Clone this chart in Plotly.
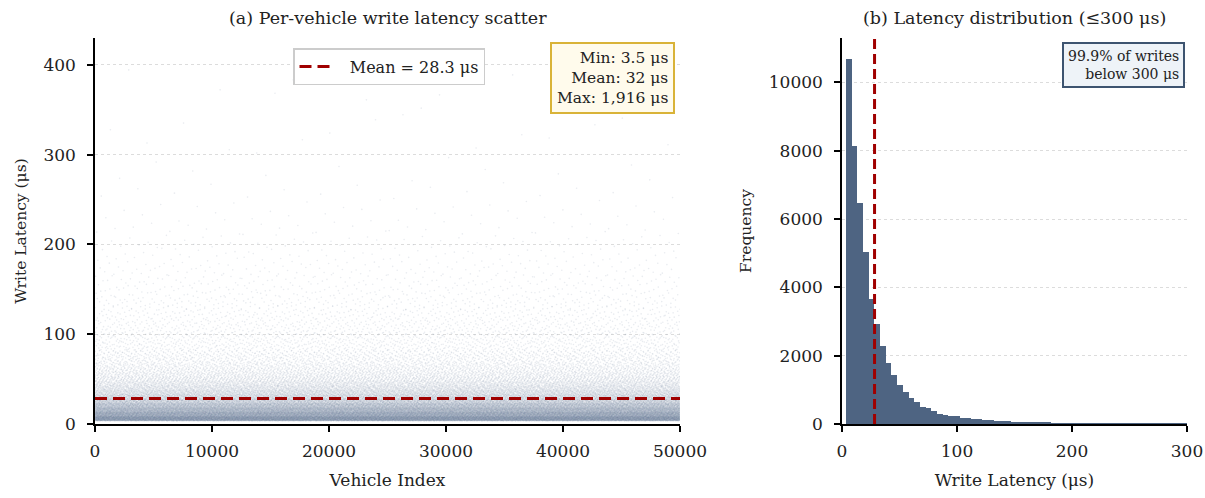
import numpy as np
import plotly.graph_objects as go

# ---------------- data ----------------
n_vehicles = 50000
mean_line = 28.3
stat_min, stat_mean, stat_max = 3.5, 32, 1916

# histogram (b): 60 bins from 3.5 to 300 us
bin_lo, bin_hi, n_bins = 3.5, 300.0, 60
hist_counts = [10700, 8145, 6470, 5030, 3655, 2920, 2275, 1800, 1420, 1130,
               935, 770, 645, 510, 458, 390, 292, 272, 240, 220,
               185, 176, 156, 137, 127, 117, 98, 88, 78, 68,
               59, 55, 50, 44, 38, 33, 29, 25, 22, 19,
               17, 15, 13, 11, 10, 9, 8, 7, 6, 5,
               5, 4, 4, 3, 3, 2, 2, 2, 1, 1]
# tail above 300 us (about 0.1 %)
tail_ranges = [(300, 350), (350, 400), (400, 1916)]
tail_counts = [15, 10, 25]


def halton(i, base):
    f, r = 1.0, np.zeros_like(i, dtype=float)
    i = i.copy()
    while np.any(i > 0):
        f /= base
        r += f * (i % base)
        i //= base
    return r


# ---------------- spread each bin's count of writes over the vehicles ----------------
edges = np.linspace(bin_lo, bin_hi, n_bins + 1)
ranges = [(edges[k], edges[k + 1]) for k in range(n_bins)] + tail_ranges
counts = list(hist_counts) + tail_counts
ys = []
for (lo, hi), c in zip(ranges, counts):
    seg = np.arange(1, c + 1)
    ys.append(lo + halton(seg, 3) * (hi - lo))
ys = np.concatenate(ys)
xs = halton(np.arange(1, len(ys) + 1), 2) * n_vehicles

FONT = "DejaVu Serif"
RED = "#a00000"
SLATE = "#4e6482"
INK = "#222222"

fig = go.Figure()

fig.add_trace(go.Scatter(
    x=xs, y=ys, mode="markers",
    marker=dict(size=1.6, color=SLATE, opacity=0.12, line=dict(width=0)),
    showlegend=False, hoverinfo="skip", xaxis="x", yaxis="y"))

fig.add_trace(go.Scatter(
    x=[0, n_vehicles], y=[mean_line, mean_line], mode="lines",
    line=dict(color=RED, width=3, dash="12px,6px"),
    name=f"\u00a0\u00a0\u00a0Mean = {mean_line} μs", xaxis="x", yaxis="y"))

centers = (edges[:-1] + edges[1:]) / 2
fig.add_trace(go.Bar(
    x=centers, y=hist_counts, width=(edges[1] - edges[0]),
    marker=dict(color=SLATE, line=dict(width=0)),
    showlegend=False, xaxis="x2", yaxis="y2"))

fig.add_trace(go.Scatter(
    x=[mean_line, mean_line], y=[0, 11300], mode="lines",
    line=dict(color=RED, width=3, dash="10px,5px"),
    showlegend=False, xaxis="x2", yaxis="y2"))

W, H = 1205, 498
def px(x):
    return x / W
def py(y):
    return 1 - y / H

TICK = dict(family=FONT, size=17, color=INK)
XTITLE = dict(family=FONT, size=17, color=INK)
YTITLE = dict(family=FONT, size=15.5, color=INK)
axis_common = dict(
    showline=True, linecolor="black", linewidth=1.5, ticks="outside",
    ticklen=6, tickwidth=1.5, tickcolor="black", mirror=False,
    tickfont=TICK, zeroline=False, automargin=False, tickformat="d",
)

fig.update_layout(
    width=W, height=H, margin=dict(l=0, r=0, t=0, b=0),
    paper_bgcolor="white", plot_bgcolor="white",
    font=dict(family=FONT, size=17, color=INK),
    bargap=0,
    xaxis=dict(domain=[px(95), px(680)], range=[0, 50000],
               tickvals=[0, 10000, 20000, 30000, 40000, 50000],
               showgrid=False, ticklabelstandoff=5,
               title=dict(text="Vehicle Index", font=XTITLE, standoff=14),
               **axis_common),
    yaxis=dict(domain=[py(424), py(38)], range=[0, 430],
               tickvals=[0, 100, 200, 300, 400],
               showgrid=True, gridcolor="#dcdcdc", griddash="dot", gridwidth=1,
               ticklabelstandoff=8,
               title=dict(text="Write Latency (μs)", font=YTITLE, standoff=13),
               **axis_common),
    xaxis2=dict(domain=[px(842), px(1187)], range=[0, 300], anchor="y2",
                tickvals=[0, 100, 200, 300], showgrid=False, ticklabelstandoff=5,
                title=dict(text="Write Latency (μs)", font=XTITLE, standoff=14),
                **axis_common),
    yaxis2=dict(domain=[py(424), py(38)], range=[0, 11300], anchor="x2",
                tickvals=[0, 2000, 4000, 6000, 8000, 10000],
                showgrid=True, gridcolor="#dcdcdc", griddash="dot", gridwidth=1,
                ticklabelstandoff=8,
                title=dict(text="Frequency", font=YTITLE, standoff=13),
                **axis_common),
    legend=dict(x=px(389), y=py(48), xanchor="center", yanchor="top",
                bgcolor="white", bordercolor="#cccccc", borderwidth=1.5,
                itemwidth=30,
                font=dict(family=FONT, size=16, color=INK)),
    annotations=[
        dict(text="(a) Per-vehicle write latency scatter", x=px(387.5), y=py(18),
             xref="paper", yref="paper", showarrow=False, xanchor="center", yanchor="middle",
             font=dict(family=FONT, size=17.5, color=INK)),
        dict(text="(b) Latency distribution (≤300 μs)", x=px(1014.5), y=py(18),
             xref="paper", yref="paper", showarrow=False, xanchor="center", yanchor="middle",
             font=dict(family=FONT, size=17.5, color=INK)),
        dict(text=f"Min: {stat_min} μs<br>Mean: {stat_mean} μs<br>Max: {stat_max:,} μs",
             x=px(675), y=py(42), xref="paper", yref="paper", showarrow=False,
             xanchor="right", yanchor="top", align="right",
             bgcolor="#fffbec", bordercolor="#d9b338", borderwidth=2, borderpad=5,
             font=dict(family=FONT, size=15.5, color=INK)),
        dict(text="99.9% of writes<br>below 300 μs",
             x=px(1185), y=py(42), xref="paper", yref="paper", showarrow=False,
             xanchor="right", yanchor="top", align="right",
             bgcolor="#eef3f8", bordercolor="#3d5470", borderwidth=2, borderpad=4,
             font=dict(family=FONT, size=14, color=INK)),
    ],
)

fig.write_html("out.html", config={"displayModeBar": False},
               post_script="document.body.style.margin='0';document.body.style.overflow='hidden';")
